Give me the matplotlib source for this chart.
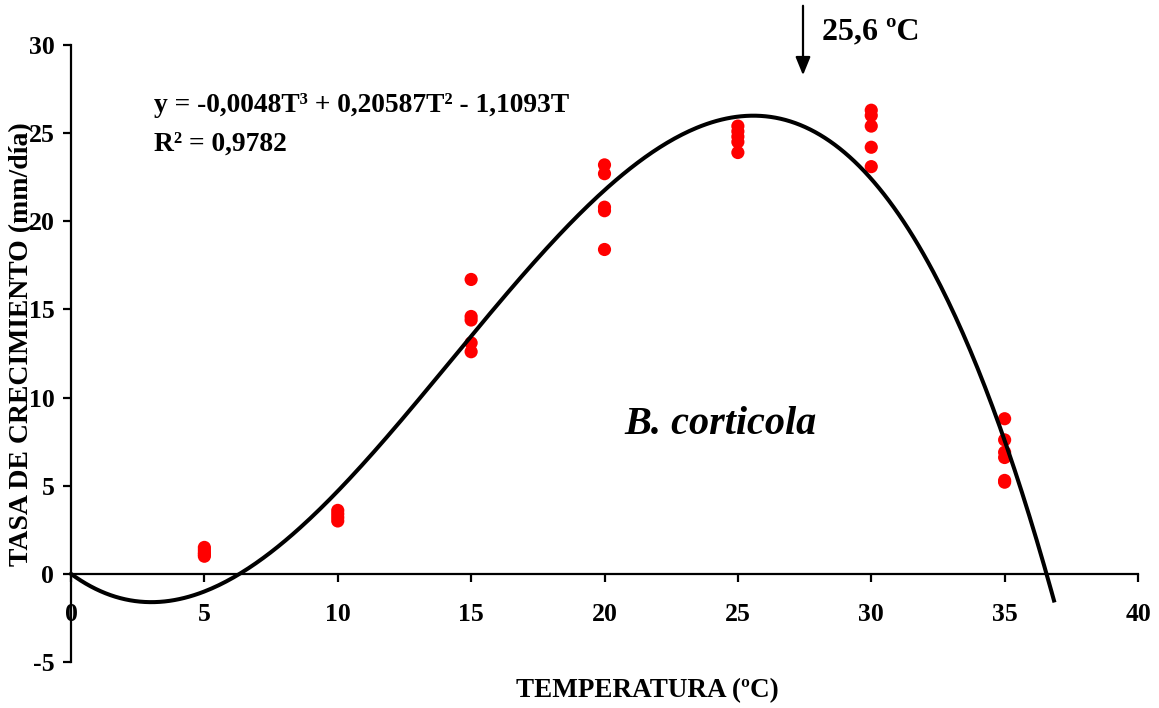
import numpy as np
import matplotlib
matplotlib.use("Agg")
import matplotlib.pyplot as plt

# ---- data ----
temps = [5, 10, 15, 20, 25, 30, 35]
growth = [
    [1.5, 1.35, 1.2, 1.0, 1.1],
    [3.6, 3.4, 3.2, 3.0],
    [16.7, 14.6, 14.4, 13.1, 12.6],
    [23.2, 22.7, 20.8, 20.6, 18.4],
    [25.4, 25.1, 24.8, 24.5, 23.9],
    [26.3, 26.0, 25.4, 24.2, 23.1],
    [8.8, 7.6, 6.9, 6.6, 5.3, 5.2],
]
coeffs = [-0.0048, 0.20587, -1.1093, 0.0]   # cubic trendline
t_end = 36.85
opt_temp = 25.6
x_ticks = [0, 5, 10, 15, 20, 25, 30, 35, 40]
y_ticks = [-5, 0, 5, 10, 15, 20, 25, 30]

plt.rcParams['font.family'] = ['Liberation Serif', 'DejaVu Serif']
plt.rcParams['font.weight'] = 'bold'

fig = plt.figure(figsize=(11.59, 7.08), dpi=100)
ax = fig.add_axes([71/1159, 1-662/708, (1138-71)/1159, (662-45)/708])
ax.set_xlim(0, 40)
ax.set_ylim(-5, 30)

def px_x(p):
    return (p - 71) / 1067 * 40

def px_y(p):
    return 30 - (p - 45) / 617 * 35

xs = [t for t, g in zip(temps, growth) for _ in g]
ys = [v for g in growth for v in g]
ax.scatter(xs, ys, s=90, color='#ff0000', edgecolors='none', zorder=3, clip_on=False)

tt = np.linspace(0, t_end, 400)
ax.plot(tt, np.polyval(coeffs, tt), color='black', lw=2.9, zorder=4, clip_on=False)

for s in ['top', 'right']:
    ax.spines[s].set_visible(False)
ax.spines['bottom'].set_position(('data', 0))
ax.spines['left'].set_linewidth(1.6)
ax.spines['bottom'].set_linewidth(1.6)

ax.set_xticks(x_ticks)
ax.set_yticks(y_ticks)
ax.set_xticklabels([str(v) for v in x_ticks])
ax.set_yticklabels([str(v) for v in y_ticks])
ax.tick_params(axis='x', direction='out', length=6, width=1.6, pad=15, labelsize=18.5)
ax.tick_params(axis='y', direction='out', length=6, width=1.6, pad=6, labelsize=18.5)
for lab in ax.get_xticklabels() + ax.get_yticklabels():
    lab.set_fontweight('bold')

fig.text(647/1159, 1-691/708, 'TEMPERATURA (ºC)', ha='center', va='center',
         fontsize=19.5, fontweight='bold')
fig.text(22/1159, 1-344/708, 'TASA DE CRECIMIENTO (mm/día)', ha='center', va='center',
         rotation=90, fontsize=20, fontweight='bold')

ax.text(px_x(154), px_y(105), 'y = -0,0048T³ + 0,20587T² - 1,1093T',
        fontsize=19.8, fontweight='bold', ha='left', va='center')
ax.text(px_x(154), px_y(144), 'R² = 0,9782',
        fontsize=19.8, fontweight='bold', ha='left', va='center')

ax.text(px_x(720), px_y(425), 'B. corticola', fontsize=29,
        fontweight='bold', fontstyle='italic', ha='center', va='center')

arr_x = px_x(803)
ax.annotate('', xy=(arr_x, px_y(78)), xytext=(arr_x, px_y(3)),
            xycoords='data', textcoords='data', annotation_clip=False,
            arrowprops=dict(arrowstyle='-|>,head_length=1.1,head_width=0.45',
                            color='black', lw=1.6))
ax.text(px_x(822), px_y(32), '25,6 ºC', fontsize=23, fontweight='bold',
        ha='left', va='center', clip_on=False)

fig.savefig('out.png', dpi=100)
